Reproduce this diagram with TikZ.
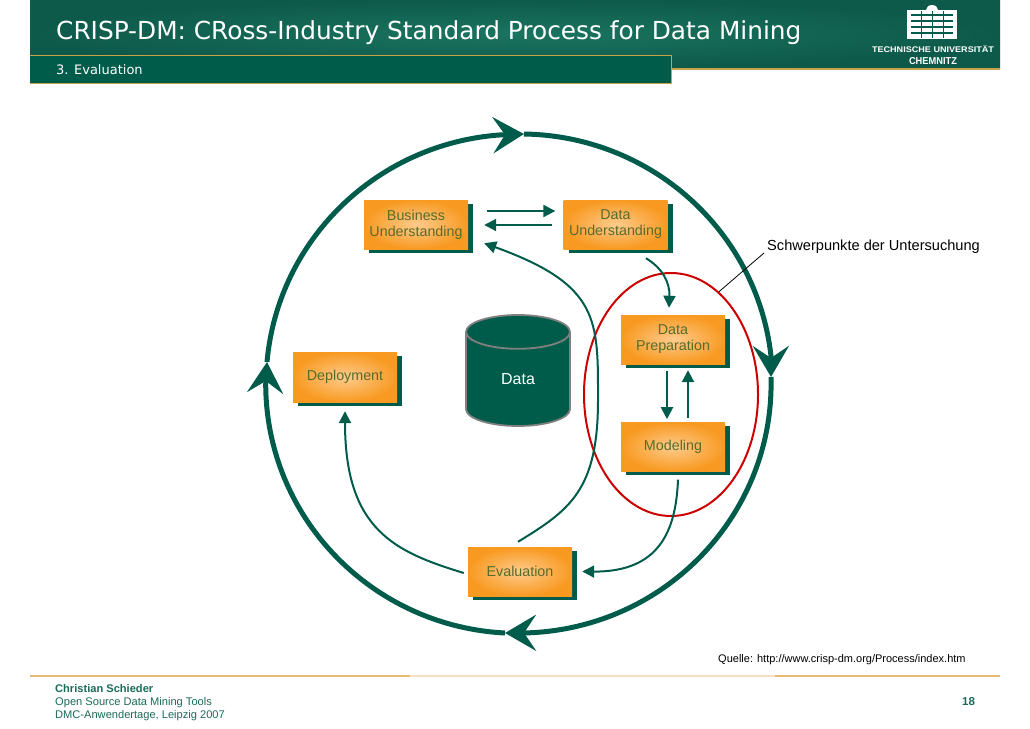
\documentclass[tikz,border=0pt]{standalone}
\usepackage{fontspec}
\setmainfont{Liberation Sans}
\newfontfamily\titlefont{DejaVu Sans}
\usetikzlibrary{positioning, shapes, shapes.geometric, arrows.meta, shadows, calc}
\definecolor{crispgreen}{HTML}{005C4A}
\definecolor{crispdark}{HTML}{0E5A4A}
\definecolor{crisplight}{HTML}{1A7460}
\definecolor{crispgold}{HTML}{C9A24A}
\definecolor{crispfoot}{HTML}{1A6A58}
\definecolor{crisporange}{HTML}{F89A22}
\definecolor{crisppale}{HTML}{FFCB8C}
\definecolor{crispolive}{HTML}{566B2C}
\definecolor{crisprule}{HTML}{E8B878}
\definecolor{crisppalerule}{HTML}{F3DFC4}
\tikzset{
  stepbox/.style={shade, inner color=crisppale, outer color=crisporange,
    minimum width=104pt, minimum height=49pt, inner sep=0pt, align=center, text=crispolive,
    font=\fontsize{14.3}{16}\selectfont,
    general shadow={fill=crispgreen, shadow xshift=5pt, shadow yshift=-4pt}},
  ring/.style={draw=crispgreen, line width=5pt, -{Stealth[length=31pt,width=36pt,inset=12pt]}},
  flow/.style={draw=crispgreen, line width=2pt, -{Triangle[length=12pt,width=12pt]}},
  footnote/.style={inner sep=0pt, anchor=base west, text=crispfoot, font=\fontsize{11.1}{13}\selectfont},
}
\begin{document}
\begin{tikzpicture}[x=1pt,y=-1pt]
  \useasboundingbox (0,0) rectangle (1030,728);
  % header
  \shade[inner color=crisplight, outer color=crispdark] (30,0) rectangle (1000,68);
  \draw[crispgold, line width=1.2pt] (30,69) -- (1000,69);
  \fill[crispgreen] (30,55) rectangle (671,83);
  \draw[crispgold, line width=1pt] (30,55) -- (671,55) -- (671,83) -- (30,83);
  \node (title) [inner sep=0pt, anchor=base west, text=white] at (56,39) {\titlefont\fontsize{24.8}{27}\selectfont CRISP-DM: CRoss-Industry Standard Process for Data Mining};
  \node (subtitle) [inner sep=0pt, anchor=base west, text=white] at (56,74) {\titlefont\fontsize{13}{15}\selectfont 3. Evaluation};
  % logo
  \fill[white] (907,10) rectangle (957,39);
  \fill[white] (926,10) arc[start angle=180, end angle=360, x radius=6, y radius=5];
  \foreach \row in {14,20,26,32}
    \fill[crispgreen] (911,\row) rectangle (953,\row+2);
  \foreach \col in {921,932,943}
    \fill[crispgreen] (\col,11) rectangle (\col+1,38);
  \node (logotop) [text=white, inner sep=0pt] at (933,49) {\resizebox{122pt}{7pt}{\bfseries TECHNISCHE UNIVERSITÄT}};
  \node (logobottom) [text=white, inner sep=0pt] at (933,61) {\resizebox{48pt}{7pt}{\bfseries CHEMNITZ}};
  % cycle
  \coordinate (ringtop) at (524,134);
  \coordinate (ringright) at (771,377);
  \coordinate (ringbottom) at (505,633);
  \coordinate (ringleft) at (267,362);
  \draw[ring] (ringtop) arc[start angle=-89.1, end angle=-6.5, x radius=252.5, y radius=249.5] -- (ringright);
  \draw[ring] (ringright) arc[start angle=-1.5, end angle=88, x radius=252.5, y radius=249.5] -- (ringbottom);
  \draw[ring] (ringbottom) arc[start angle=93, end angle=180, x radius=252.5, y radius=249.5] -- (ringleft);
  \draw[ring] (ringleft) arc[start angle=185, end angle=266, x radius=252.5, y radius=249.5] -- (ringtop);
  \node (focus) [ellipse, draw=red!80!black, line width=2pt, minimum width=174pt, minimum height=243pt, inner sep=0pt] at (671,394.5) {};
  \node (focuslabel) [inner sep=0pt, anchor=base west, font=\fontsize{14.6}{16}\selectfont] at (767,250) {Schwerpunkte der Untersuchung};
  \draw[black, line width=0.8pt] ([xshift=-3pt,yshift=-3pt]focuslabel.base west) -- (focus.65.6);
  \node (business) [stepbox] at (416,224.5) {Business\\Understanding};
  \node (dataunder) [stepbox] at (615.5,224.5) {Data\\Understanding};
  \node (preparation) [stepbox] at (673,339.5) {Data\\Preparation};
  \node (modeling) [stepbox, below=58pt of preparation] {Modeling};
  \node (evaluation) [stepbox] at (520,571.5) {Evaluation};
  \node (deployment) [stepbox, minimum height=50pt] at (345,377) {Deployment};
  \node (data) [cylinder, shape border rotate=90, aspect=1, anchor=shape center, draw=gray, line width=1.8pt, fill=crispgreen, text=white,
    minimum width=104pt, minimum height=111pt, inner sep=0pt, font=\fontsize{16}{18}\selectfont] at (518,370.5) {Data};
  \draw[flow, shorten <=19pt, shorten >=8pt] ([yshift=13.5pt]business.east) -- ([yshift=13.5pt]dataunder.west);
  \draw[flow, shorten <=11pt, shorten >=16pt] ([yshift=-0.5pt]dataunder.west) -- ([yshift=-0.5pt]business.east);
  \draw[flow] ([xshift=30.5pt,yshift=-9pt]dataunder.south) .. controls (662,268) and (670,282) .. ([xshift=-4pt,yshift=7pt]preparation.north);
  \draw[flow, shorten <=7pt, shorten >=3pt] ([xshift=-6pt]preparation.south) -- ([xshift=-6pt]modeling.north);
  \draw[flow, shorten <=4pt, shorten >=6pt] ([xshift=15pt]modeling.north) -- ([xshift=15pt]preparation.south);
  \draw[flow] ([xshift=5pt,yshift=-8pt]modeling.south) .. controls (676,530) and (660,572) .. ([xshift=10pt]evaluation.east);
  \draw[flow] ([xshift=-2pt,yshift=5pt]evaluation.north) .. controls (570,510) and (598,490) .. (598,400)
    .. controls (598,320) and (600,285) .. ([xshift=16pt,yshift=6pt]business.south east);
  \draw[flow] ([xshift=-4pt,yshift=-1.5pt]evaluation.west) .. controls (395,552) and (345,530) .. ([yshift=-9pt]deployment.south);
  % footer
  \draw[crisprule, line width=1.5pt] (30,676) -- (410,676);
  \draw[crisppalerule, line width=1.5pt] (410,676) -- (775,676);
  \draw[crisprule, line width=1.5pt] (775,676) -- (1000,676);
  \node (source) [inner sep=0pt, anchor=base west, font=\fontsize{11}{13}\selectfont] at (718,662) {Quelle: http://www.crisp-dm.org/Process/index.htm};
  \node (author) [footnote, font=\fontsize{11.1}{13}\selectfont\bfseries] at (55,692) {Christian Schieder};
  \node (event) [footnote] at (55,705) {Open Source Data Mining Tools};
  \node (place) [footnote] at (55,718) {DMC-Anwendertage, Leipzig 2007};
  \node (pagenumber) [footnote, font=\fontsize{11.5}{13}\selectfont\bfseries] at (962,705) {18};
\end{tikzpicture}
\end{document}
